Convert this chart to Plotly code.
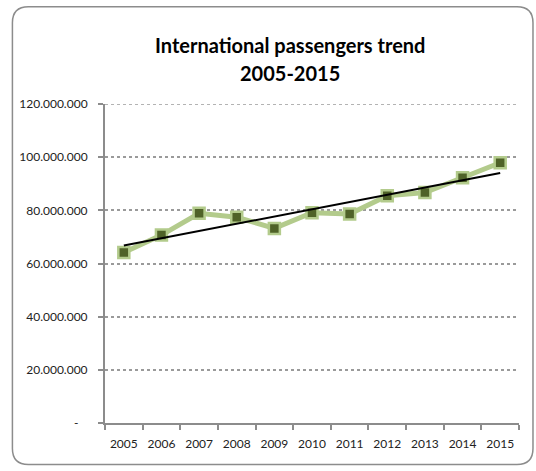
import numpy as np
import plotly.graph_objects as go

years = ["2005", "2006", "2007", "2008", "2009", "2010", "2011", "2012", "2013", "2014", "2015"]
passengers = [64.1e6, 70.7e6, 78.9e6, 77.4e6, 73.2e6, 79.1e6, 78.6e6, 85.5e6, 86.7e6, 92.3e6, 97.9e6]
y_tickvals = [0, 20e6, 40e6, 60e6, 80e6, 100e6, 120e6]
y_ticktext = ["-\u00a0\u00a0\u00a0", "20.000.000", "40.000.000", "60.000.000", "80.000.000", "100.000.000", "120.000.000"]
title_line1 = "International passengers trend"
title_line2 = "2005-2015"

# linear trendline fitted to the data
idx = np.arange(len(years))
slope, intercept = np.polyfit(idx, np.array(passengers), 1)
trend = (slope * idx + intercept).tolist()

W, H = 536, 471
L, R, T, B = 105, 16.5, 104, 48
pw, ph = W - L - R, H - T - B

def px(x):
    return (x - L) / pw

def py(y):
    return (H - B - y) / ph

FONT = "Lato, sans-serif"
GRAY = "#8c8c8c"
GRID = "#9a9a9a"

fig = go.Figure()
fig.add_trace(go.Scatter(
    x=years, y=passengers, mode="lines+markers",
    line=dict(color="#b3cb8c", width=5),
    marker=dict(symbol="square", size=11, color="#4f6228",
                line=dict(color="#b3cb8c", width=2.5)),
    showlegend=False, hoverinfo="skip"))
fig.add_trace(go.Scatter(
    x=years, y=trend, mode="lines",
    line=dict(color="black", width=2),
    showlegend=False, hoverinfo="skip"))

# top gridline at the range edge
fig.add_shape(type="line", xref="paper", yref="y", x0=0, x1=1,
              y0=y_tickvals[-1], y1=y_tickvals[-1],
              line=dict(color=GRID, width=1.5, dash="dot"), layer="below")

# rounded chart frame
x0, x1, y0, y1, r = 12.3, 533.5, 6.7, 464.5, 16
rx, ry = r / pw, r / ph
X0, X1, Y0, Y1 = px(x0), px(x1), py(y0), py(y1)
path = (f"M {X0},{Y0-ry} Q {X0},{Y0} {X0+rx},{Y0} L {X1-rx},{Y0} Q {X1},{Y0} {X1},{Y0-ry} "
        f"L {X1},{Y1+ry} Q {X1},{Y1} {X1-rx},{Y1} L {X0+rx},{Y1} Q {X0},{Y1} {X0},{Y1+ry} Z")
fig.add_shape(type="path", path=path, xref="paper", yref="paper",
              line=dict(color=GRAY, width=1.5), layer="below")

fig.add_annotation(text=f"<b>{title_line1}</b>", xref="paper", yref="paper",
                   x=px(290), y=py(45), showarrow=False,
                   xanchor="center", yanchor="middle",
                   font=dict(family=FONT, size=20, color="black"))
fig.add_annotation(text=f"<b>{title_line2}</b>", xref="paper", yref="paper",
                   x=px(290), y=py(73), showarrow=False,
                   xanchor="center", yanchor="middle",
                   font=dict(family=FONT, size=20, color="black"))

fig.update_layout(
    width=W, height=H,
    margin=dict(l=L, r=R, t=T, b=B, autoexpand=False),
    paper_bgcolor="white", plot_bgcolor="white",
    font=dict(family=FONT, size=12, color="#222"),
    xaxis=dict(type="category", range=[-0.5, len(years) - 0.5],
               tickson="boundaries", ticks="outside",
               ticklen=5, tickcolor=GRAY, tickwidth=1.5, tickangle=0,
               showline=True, linecolor=GRAY, linewidth=2,
               showgrid=False, zeroline=False, automargin=False,
               tickfont=dict(family=FONT, size=12, color="#222"),
               ticklabelstandoff=9),
    yaxis=dict(range=[0, 120e6], tickvals=y_tickvals, ticktext=y_ticktext,
               ticks="outside", ticklen=5, tickcolor=GRAY, tickwidth=1.5,
               showline=True, linecolor=GRAY, linewidth=2,
               showgrid=True, gridcolor=GRID, gridwidth=1.5, griddash="dot",
               zeroline=False, automargin=False,
               tickfont=dict(family=FONT, size=12, color="#222"),
               ticklabelstandoff=8),
)

fig.write_html("out.html", config={"displayModeBar": False},
               post_script="document.body.style.margin='0';")
